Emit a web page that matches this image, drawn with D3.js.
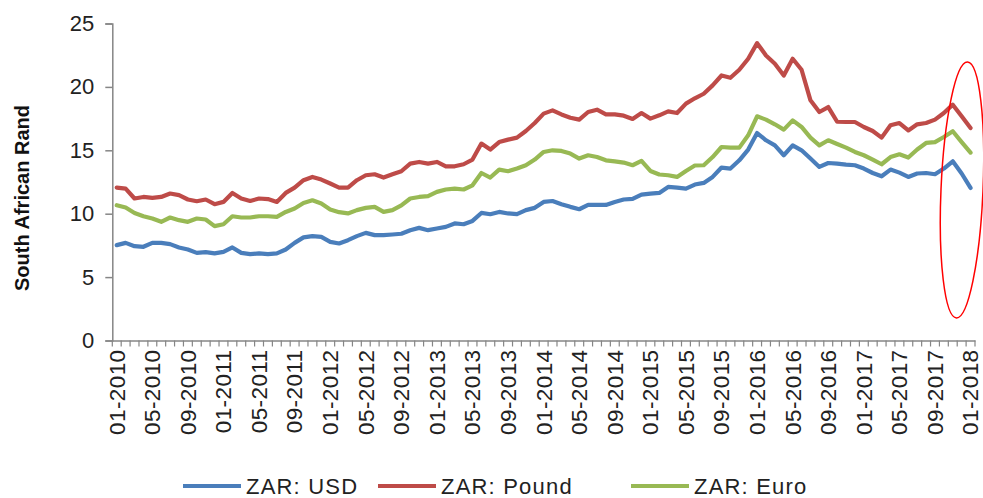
<!DOCTYPE html>
<html>
<head>
<meta charset="utf-8">
<script src="https://cdn.jsdelivr.net/npm/d3@7"></script>
<style>
  body { margin: 0; background: #fff; }
  svg { display: block; font-family: "Century Gothic", "Liberation Sans", Arial, sans-serif; }
</style>
</head>
<body>
<div id="chart"></div>
<script>
// monthly average, 01-2010 .. 01-2018
const months = [];
for (let y = 2010; y <= 2018; y++) {
  for (let m = 1; m <= 12; m++) {
    if (y === 2018 && m > 1) break;
    months.push((m < 10 ? '0' + m : '' + m) + '-' + y);
  }
}

const usd = [
  7.52, 7.7, 7.44, 7.39, 7.7, 7.7, 7.6, 7.34, 7.18, 6.91, 6.97, 6.87, 6.99, 7.34, 6.91, 6.81, 6.87,
  6.81, 6.87, 7.18, 7.7, 8.13, 8.23, 8.17, 7.78, 7.65, 7.91, 8.23, 8.49, 8.31, 8.31, 8.36,
  8.42, 8.7, 8.88, 8.7, 8.83, 8.96, 9.23, 9.17, 9.43, 10.06, 9.96, 10.14, 10.02, 9.96, 10.28, 10.46, 10.93,
  11.0, 10.75, 10.54, 10.35, 10.69, 10.69, 10.69, 10.93, 11.12, 11.17, 11.51, 11.59, 11.64, 12.11, 12.06, 11.98,
  12.3, 12.43, 12.9, 13.64, 13.56, 14.21, 15.06, 16.36, 15.79, 15.39, 14.61, 15.39, 15.0, 14.35, 13.69, 14.0,
  13.95, 13.87, 13.82, 13.56, 13.21, 12.95, 13.48, 13.24, 12.9, 13.17, 13.21, 13.11, 13.56, 14.13, 13.17, 12.03
];
const pound = [
  12.06, 11.98, 11.2, 11.32, 11.25, 11.32, 11.59, 11.46, 11.12, 10.98, 11.12, 10.75, 10.93, 11.64, 11.2, 11.0, 11.2,
  11.15, 10.93, 11.64, 12.06, 12.64, 12.9, 12.69, 12.38, 12.06, 12.06, 12.64, 13.03, 13.11, 12.85, 13.11,
  13.35, 13.95, 14.08, 13.95, 14.08, 13.74, 13.74, 13.9, 14.27, 15.53, 15.06, 15.65, 15.84, 16.0, 16.52, 17.15, 17.89,
  18.15, 17.83, 17.57, 17.42, 18.02, 18.2, 17.83, 17.83, 17.73, 17.47, 17.94, 17.5, 17.76, 18.07, 17.94, 18.68,
  19.1, 19.46, 20.12, 20.9, 20.72, 21.35, 22.22, 23.45, 22.48, 21.83, 20.9, 22.22, 21.35, 18.94, 18.02, 18.41,
  17.25, 17.23, 17.23, 16.84, 16.52, 16.0, 16.97, 17.15, 16.57, 17.05, 17.15, 17.42, 17.94, 18.6, 17.68, 16.76
];
const euro = [
  10.67, 10.49, 10.06, 9.8, 9.62, 9.36, 9.7, 9.49, 9.36, 9.62, 9.54, 9.02, 9.17, 9.8, 9.7, 9.7, 9.8,
  9.8, 9.75, 10.14, 10.41, 10.85, 11.06, 10.8, 10.33, 10.12, 10.02, 10.28, 10.46, 10.54, 10.14, 10.28,
  10.65, 11.2, 11.32, 11.38, 11.72, 11.91, 11.98, 11.91, 12.24, 13.21, 12.85, 13.48, 13.35, 13.56, 13.82, 14.27, 14.87,
  15.0, 14.95, 14.74, 14.35, 14.61, 14.47, 14.21, 14.13, 14.03, 13.82, 14.16, 13.37, 13.09, 13.03, 12.9, 13.37,
  13.8, 13.82, 14.47, 15.26, 15.21, 15.21, 16.18, 17.68, 17.42, 17.05, 16.63, 17.36, 16.84, 16.0, 15.39, 15.79,
  15.5, 15.21, 14.87, 14.61, 14.27, 13.9, 14.47, 14.69, 14.43, 15.06, 15.58, 15.65, 16.05, 16.5, 15.65, 14.82
];

const seriesNames = ['ZAR: USD', 'ZAR: Pound', 'ZAR: Euro'];
const seriesColors = ['#4A7EBB', '#BE4B48', '#98B954'];
const yTicks = [0, 5, 10, 15, 20, 25];

const width = 983, height = 498;
const svg = d3.select('#chart').append('svg')
  .attr('width', width)
  .attr('height', height);

const x = d3.scaleBand().domain(months).range([112.3, 975]).padding(0);
const y = d3.scaleLinear().domain([0, 25]).range([340.5, 23.5]);
const cx = d => x(d) + x.bandwidth() / 2;

// y axis
const yAxis = svg.append('g')
  .attr('transform', 'translate(112.3,0)')
  .call(d3.axisLeft(y).tickValues(yTicks).tickSize(7).tickPadding(11));
yAxis.select('.domain').attr('stroke', '#868686').attr('stroke-width', 1.5);
yAxis.selectAll('.tick line').attr('stroke', '#868686').attr('stroke-width', 1.5);
yAxis.selectAll('.tick text')
  .attr('font-size', 22).attr('fill', '#222')
  .attr('font-family', '"Century Gothic", "Liberation Sans", Arial, sans-serif');

// x axis: tick marks between categories, labels every 4 months
const xAxis = svg.append('g')
  .attr('transform', 'translate(0,340.5)')
  .call(d3.axisBottom(x).tickValues(months.filter((d, i) => i % 4 === 0)).tickSize(0).tickPadding(0));
xAxis.select('.domain').attr('stroke', '#868686').attr('stroke-width', 1.5);
xAxis.selectAll('.tick text')
  .attr('font-size', 22.5).attr('fill', '#222')
  .attr('font-family', '"Century Gothic", "Liberation Sans", Arial, sans-serif')
  .attr('letter-spacing', 0.4)
  .attr('transform', 'rotate(-90)')
  .attr('text-anchor', 'end')
  .attr('x', -9)
  .attr('y', 0)
  .attr('dy', '0.35em');

const bounds = months.map(d => x(d)).concat([x.range()[1]]);
xAxis.selectAll('line.cat')
  .data(bounds)
  .enter().append('line')
  .attr('class', 'cat')
  .attr('x1', d => d).attr('x2', d => d)
  .attr('y1', 0).attr('y2', 6)
  .attr('stroke', '#868686').attr('stroke-width', 1.2);

// axis title
svg.append('text')
  .attr('transform', 'translate(29,198) rotate(-90)')
  .attr('text-anchor', 'middle')
  .attr('font-size', 20)
  .attr('font-weight', 'bold')
  .attr('fill', '#111')
  .text('South African Rand');

// lines
const line = d3.line()
  .x((d, i) => cx(months[i]))
  .y(d => y(d));

[usd, pound, euro].forEach((vals, k) => {
  svg.append('path')
    .datum(vals)
    .attr('fill', 'none')
    .attr('stroke', seriesColors[k])
    .attr('stroke-width', 4.2)
    .attr('stroke-linejoin', 'round')
    .attr('stroke-linecap', 'round')
    .attr('d', line);
});

// highlight ellipse around the latest months
svg.append('ellipse')
  .attr('transform', 'translate(962,190) rotate(2.5)')
  .attr('rx', 21)
  .attr('ry', 128)
  .attr('fill', 'none')
  .attr('stroke', '#FF0000')
  .attr('stroke-width', 1.5);

// legend
const legendX = [183, 378, 631];
const legend = svg.append('g');
seriesNames.forEach((name, k) => {
  legend.append('line')
    .attr('x1', legendX[k]).attr('x2', legendX[k] + 58)
    .attr('y1', 486).attr('y2', 486)
    .attr('stroke', seriesColors[k])
    .attr('stroke-width', 4.2);
  legend.append('text')
    .attr('x', legendX[k] + 63)
    .attr('y', 486)
    .attr('dy', '0.35em')
    .attr('font-size', 22)
    .attr('letter-spacing', 1.2)
    .attr('fill', '#222')
    .text(name);
});
</script>
</body>
</html>
